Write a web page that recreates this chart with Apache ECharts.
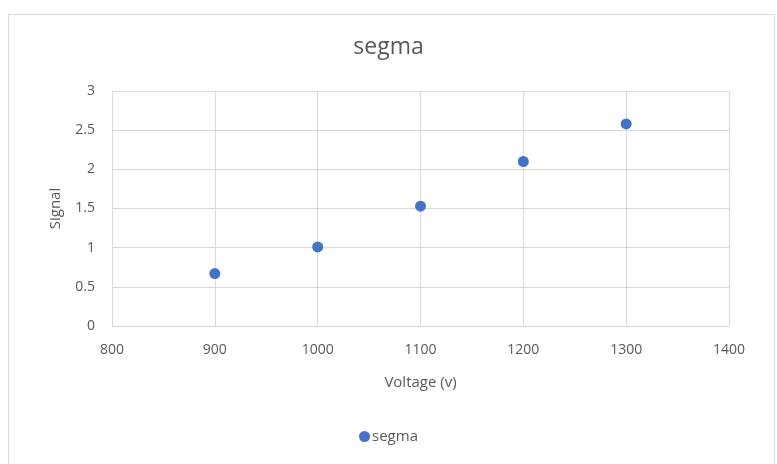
<!DOCTYPE html>
<html><head><meta charset="utf-8">
<script src="https://cdn.jsdelivr.net/npm/echarts@6/dist/echarts.min.js"></script>
<style>html,body{margin:0;padding:0;background:#fff}#c{width:777px;height:464px}</style>
</head><body><div id="c"></div>
<script>
const seriesName = 'segma';
const voltage = [900, 1000, 1100, 1200, 1300];
const signal = [0.67, 1.01, 1.53, 2.10, 2.58];
const xTicks = [800, 900, 1000, 1100, 1200, 1300, 1400];
const yTicks = [0, 0.5, 1, 1.5, 2, 2.5, 3];

const font = '"Open Sans", "Liberation Sans", sans-serif';
const chart = echarts.init(document.getElementById('c'), null, {renderer: 'canvas'});
chart.setOption({
  animation: false,
  backgroundColor: '#fff',
  graphic: [{type: 'rect', shape: {x: 8.5, y: 14.5, width: 766, height: 460}, style: {fill: 'none', stroke: '#d9d9d9', lineWidth: 1}, silent: true}],
  title: {text: seriesName, left: 'center', top: 31, textStyle: {fontFamily: font, fontSize: 23, fontWeight: 'normal', color: '#595959'}},
  grid: {left: 112, right: 48, top: 91, bottom: 138, containLabel: false},
  xAxis: {
    type: 'value', min: xTicks[0], max: xTicks[xTicks.length - 1], interval: 100,
    name: 'Voltage (v)', nameLocation: 'middle', nameGap: 49,
    nameTextStyle: {fontFamily: font, fontSize: 15, color: '#595959'},
    axisLine: {show: true, lineStyle: {color: '#d9d9d9'}},
    axisTick: {show: false},
    axisLabel: {fontFamily: font, fontSize: 14, color: '#595959', margin: 17, formatter: v => String(v)},
    splitLine: {show: true, lineStyle: {color: '#d9d9d9'}}
  },
  yAxis: {
    type: 'value', min: yTicks[0], max: yTicks[yTicks.length - 1], interval: 0.5,
    name: 'Signal', nameLocation: 'middle', nameGap: 49, nameRotate: 90,
    nameTextStyle: {fontFamily: font, fontSize: 15, color: '#595959'},
    axisLine: {show: false},
    axisTick: {show: false},
    axisLabel: {fontFamily: font, fontSize: 14, color: '#595959', margin: 17, formatter: v => String(v)},
    splitLine: {show: true, lineStyle: {color: '#d9d9d9'}}
  },
  legend: {
    bottom: 15, left: 'center', itemWidth: 11, itemHeight: 11, itemGap: 4,
    textStyle: {fontFamily: font, fontSize: 15, color: '#595959', padding: [0, 0, 0, -3]},
    data: [{name: seriesName, icon: 'circle'}]
  },
  series: [{
    name: seriesName, type: 'scatter', symbol: 'circle', symbolSize: 11,
    itemStyle: {color: '#4472C4', opacity: 1},
    data: voltage.map((v, i) => [v, signal[i]])
  }]
});
</script></body></html>
